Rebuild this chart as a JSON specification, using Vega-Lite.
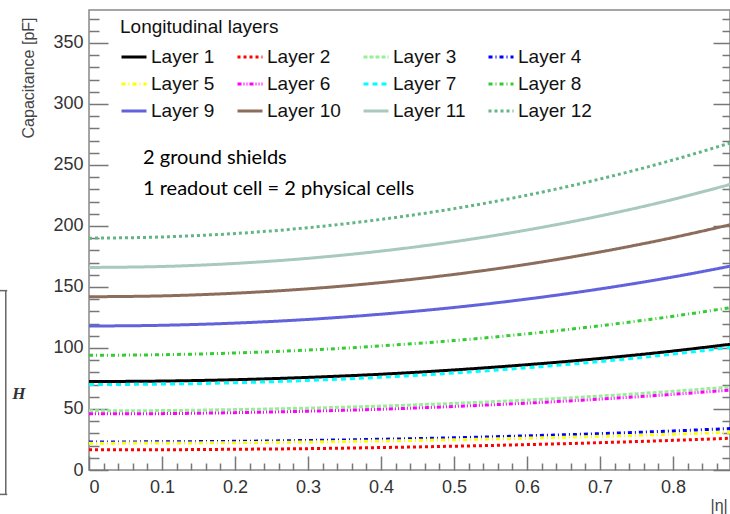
{
  "$schema": "https://vega.github.io/schema/vega-lite/v6.json",
  "autosize": {"type": "none"},
  "padding": {"left": 89, "top": 10, "right": 0, "bottom": 44},
  "width": 641,
  "height": 460,
  "background": "white",
  "config": {
    "view": {"stroke": "#888888", "strokeWidth": 1.5},
    "axis": {"domain": false, "grid": false, "tickColor": "#777777", "tickWidth": 1.5, "labelFont": "Liberation Sans", "labelFontSize": 18, "labelColor": "#333333", "titleFont": "Liberation Sans", "titleFontWeight": "normal", "titleColor": "#444444"}
  },
  "datasets": {
    "curves": [
      {"eta": 0, "C": 72.5, "layer": "Layer 1"}, {"eta": 0.1, "C": 72.9, "layer": "Layer 1"}, {"eta": 0.2, "C": 74.0, "layer": "Layer 1"}, {"eta": 0.3, "C": 75.9, "layer": "Layer 1"}, {"eta": 0.4, "C": 78.5, "layer": "Layer 1"}, {"eta": 0.5, "C": 82.0, "layer": "Layer 1"}, {"eta": 0.6, "C": 86.3, "layer": "Layer 1"}, {"eta": 0.7, "C": 91.4, "layer": "Layer 1"}, {"eta": 0.8, "C": 97.5, "layer": "Layer 1"}, {"eta": 0.878, "C": 103.0, "layer": "Layer 1"},
      {"eta": 0, "C": 16.5, "layer": "Layer 2"}, {"eta": 0.1, "C": 16.6, "layer": "Layer 2"}, {"eta": 0.2, "C": 17.0, "layer": "Layer 2"}, {"eta": 0.3, "C": 17.5, "layer": "Layer 2"}, {"eta": 0.4, "C": 18.4, "layer": "Layer 2"}, {"eta": 0.5, "C": 19.5, "layer": "Layer 2"}, {"eta": 0.6, "C": 20.8, "layer": "Layer 2"}, {"eta": 0.7, "C": 22.4, "layer": "Layer 2"}, {"eta": 0.8, "C": 24.3, "layer": "Layer 2"}, {"eta": 0.878, "C": 26.0, "layer": "Layer 2"},
      {"eta": 0, "C": 48.5, "layer": "Layer 3"}, {"eta": 0.1, "C": 48.7, "layer": "Layer 3"}, {"eta": 0.2, "C": 49.5, "layer": "Layer 3"}, {"eta": 0.3, "C": 50.7, "layer": "Layer 3"}, {"eta": 0.4, "C": 52.4, "layer": "Layer 3"}, {"eta": 0.5, "C": 54.6, "layer": "Layer 3"}, {"eta": 0.6, "C": 57.3, "layer": "Layer 3"}, {"eta": 0.7, "C": 60.6, "layer": "Layer 3"}, {"eta": 0.8, "C": 64.5, "layer": "Layer 3"}, {"eta": 0.878, "C": 68.0, "layer": "Layer 3"},
      {"eta": 0, "C": 23.0, "layer": "Layer 4"}, {"eta": 0.1, "C": 23.1, "layer": "Layer 4"}, {"eta": 0.2, "C": 23.5, "layer": "Layer 4"}, {"eta": 0.3, "C": 24.2, "layer": "Layer 4"}, {"eta": 0.4, "C": 25.2, "layer": "Layer 4"}, {"eta": 0.5, "C": 26.4, "layer": "Layer 4"}, {"eta": 0.6, "C": 28.0, "layer": "Layer 4"}, {"eta": 0.7, "C": 29.8, "layer": "Layer 4"}, {"eta": 0.8, "C": 32.0, "layer": "Layer 4"}, {"eta": 0.878, "C": 34.0, "layer": "Layer 4"},
      {"eta": 0, "C": 22.0, "layer": "Layer 5"}, {"eta": 0.1, "C": 22.1, "layer": "Layer 5"}, {"eta": 0.2, "C": 22.4, "layer": "Layer 5"}, {"eta": 0.3, "C": 23.0, "layer": "Layer 5"}, {"eta": 0.4, "C": 23.8, "layer": "Layer 5"}, {"eta": 0.5, "C": 24.8, "layer": "Layer 5"}, {"eta": 0.6, "C": 26.1, "layer": "Layer 5"}, {"eta": 0.7, "C": 27.6, "layer": "Layer 5"}, {"eta": 0.8, "C": 29.4, "layer": "Layer 5"}, {"eta": 0.878, "C": 31.0, "layer": "Layer 5"},
      {"eta": 0, "C": 46.0, "layer": "Layer 6"}, {"eta": 0.1, "C": 46.2, "layer": "Layer 6"}, {"eta": 0.2, "C": 47.0, "layer": "Layer 6"}, {"eta": 0.3, "C": 48.2, "layer": "Layer 6"}, {"eta": 0.4, "C": 49.8, "layer": "Layer 6"}, {"eta": 0.5, "C": 52.1, "layer": "Layer 6"}, {"eta": 0.6, "C": 54.8, "layer": "Layer 6"}, {"eta": 0.7, "C": 58.1, "layer": "Layer 6"}, {"eta": 0.8, "C": 62.0, "layer": "Layer 6"}, {"eta": 0.878, "C": 65.5, "layer": "Layer 6"},
      {"eta": 0, "C": 70.0, "layer": "Layer 7"}, {"eta": 0.1, "C": 70.4, "layer": "Layer 7"}, {"eta": 0.2, "C": 71.5, "layer": "Layer 7"}, {"eta": 0.3, "C": 73.4, "layer": "Layer 7"}, {"eta": 0.4, "C": 76.0, "layer": "Layer 7"}, {"eta": 0.5, "C": 79.5, "layer": "Layer 7"}, {"eta": 0.6, "C": 83.8, "layer": "Layer 7"}, {"eta": 0.7, "C": 88.9, "layer": "Layer 7"}, {"eta": 0.8, "C": 95.0, "layer": "Layer 7"}, {"eta": 0.878, "C": 100.5, "layer": "Layer 7"},
      {"eta": 0, "C": 94.0, "layer": "Layer 8"}, {"eta": 0.1, "C": 94.5, "layer": "Layer 8"}, {"eta": 0.2, "C": 95.9, "layer": "Layer 8"}, {"eta": 0.3, "C": 98.3, "layer": "Layer 8"}, {"eta": 0.4, "C": 101.7, "layer": "Layer 8"}, {"eta": 0.5, "C": 106.1, "layer": "Layer 8"}, {"eta": 0.6, "C": 111.6, "layer": "Layer 8"}, {"eta": 0.7, "C": 118.2, "layer": "Layer 8"}, {"eta": 0.8, "C": 126.0, "layer": "Layer 8"}, {"eta": 0.878, "C": 133.0, "layer": "Layer 8"},
      {"eta": 0, "C": 118.0, "layer": "Layer 9"}, {"eta": 0.1, "C": 118.6, "layer": "Layer 9"}, {"eta": 0.2, "C": 120.4, "layer": "Layer 9"}, {"eta": 0.3, "C": 123.4, "layer": "Layer 9"}, {"eta": 0.4, "C": 127.7, "layer": "Layer 9"}, {"eta": 0.5, "C": 133.2, "layer": "Layer 9"}, {"eta": 0.6, "C": 140.1, "layer": "Layer 9"}, {"eta": 0.7, "C": 148.4, "layer": "Layer 9"}, {"eta": 0.8, "C": 158.2, "layer": "Layer 9"}, {"eta": 0.878, "C": 167.0, "layer": "Layer 9"},
      {"eta": 0, "C": 142.0, "layer": "Layer 10"}, {"eta": 0.1, "C": 142.7, "layer": "Layer 10"}, {"eta": 0.2, "C": 144.9, "layer": "Layer 10"}, {"eta": 0.3, "C": 148.5, "layer": "Layer 10"}, {"eta": 0.4, "C": 153.6, "layer": "Layer 10"}, {"eta": 0.5, "C": 160.3, "layer": "Layer 10"}, {"eta": 0.6, "C": 168.6, "layer": "Layer 10"}, {"eta": 0.7, "C": 178.7, "layer": "Layer 10"}, {"eta": 0.8, "C": 190.5, "layer": "Layer 10"}, {"eta": 0.878, "C": 201.0, "layer": "Layer 10"},
      {"eta": 0, "C": 166.0, "layer": "Layer 11"}, {"eta": 0.1, "C": 166.8, "layer": "Layer 11"}, {"eta": 0.2, "C": 169.3, "layer": "Layer 11"}, {"eta": 0.3, "C": 173.5, "layer": "Layer 11"}, {"eta": 0.4, "C": 179.4, "layer": "Layer 11"}, {"eta": 0.5, "C": 187.1, "layer": "Layer 11"}, {"eta": 0.6, "C": 196.7, "layer": "Layer 11"}, {"eta": 0.7, "C": 208.2, "layer": "Layer 11"}, {"eta": 0.8, "C": 221.8, "layer": "Layer 11"}, {"eta": 0.878, "C": 234.0, "layer": "Layer 11"},
      {"eta": 0, "C": 190.0, "layer": "Layer 12"}, {"eta": 0.1, "C": 191.0, "layer": "Layer 12"}, {"eta": 0.2, "C": 193.8, "layer": "Layer 12"}, {"eta": 0.3, "C": 198.6, "layer": "Layer 12"}, {"eta": 0.4, "C": 205.4, "layer": "Layer 12"}, {"eta": 0.5, "C": 214.2, "layer": "Layer 12"}, {"eta": 0.6, "C": 225.2, "layer": "Layer 12"}, {"eta": 0.7, "C": 238.5, "layer": "Layer 12"}, {"eta": 0.8, "C": 254.1, "layer": "Layer 12"}, {"eta": 0.878, "C": 268.0, "layer": "Layer 12"}
    ],
    "notes": [
      {"x": 0.074, "y": 256, "label": "2 ground shields"},
      {"x": 0.074, "y": 230, "label": "1 readout cell = 2 physical cells"}
    ],
    "bracket": [
      {"x": -0.114, "x2": -0.114, "y": -20, "y2": 147},
      {"x": -0.123, "x2": -0.112, "y": 147, "y2": 147},
      {"x": -0.123, "x2": -0.112, "y": -20, "y2": -20}
    ],
    "hlabel": [
      {"x": -0.096, "y": 62, "t": "H"}
    ]
  },
  "resolve": {"axis": {"x": "independent", "y": "independent"}},
  "layer": [
    {
      "data": {"name": "curves"},
      "mark": {"type": "line", "strokeWidth": 3, "interpolate": "monotone"},
      "encoding": {
        "x": {"field": "eta", "type": "quantitative", "scale": {"domain": [0, 0.878], "nice": false, "zero": false},
          "axis": {"orient": "bottom", "values": [0, 0.1, 0.2, 0.3, 0.4, 0.5, 0.6, 0.7, 0.8], "format": ".1~f", "tickSize": -14, "labelPadding": 22, "title": "|η|", "titleFontSize": 16, "titleAnchor": "end", "titleAlign": "left", "titleBaseline": "middle", "titleX": 621, "titleY": 35}},
        "y": {"field": "C", "type": "quantitative", "scale": {"domain": [0, 377], "nice": false, "zero": false},
          "axis": {"orient": "left", "values": [0, 50, 100, 150, 200, 250, 300, 350], "tickSize": -19, "labelPadding": 25, "title": "Capacitance [pF]", "titleFontSize": 16, "titleAngle": -90, "titleAlign": "right", "titleBaseline": "middle", "titleX": -61, "titleY": 7}},
        "color": {"field": "layer", "type": "nominal",
          "scale": {"domain": ["Layer 1", "Layer 2", "Layer 3", "Layer 4", "Layer 5", "Layer 6", "Layer 7", "Layer 8", "Layer 9", "Layer 10", "Layer 11", "Layer 12"],
            "range": ["#000000", "#ff0000", "#99ee99", "#0000ff", "#ffff00", "#ff00ff", "#00ffff", "#33cc33", "#6262dd", "#8c6d5c", "#a8c9bc", "#62b585"]},
          "legend": {"title": "Longitudinal layers", "orient": "none", "direction": "horizontal", "legendX": 31, "legendY": 8, "columns": 4, "symbolType": "stroke", "symbolSize": 625, "symbolStrokeWidth": 3, "labelFont": "Liberation Sans", "labelFontSize": 19, "labelColor": "#111111", "labelOffset": 3, "labelLimit": 200, "titleFont": "Liberation Sans", "titleFontSize": 19, "titleFontWeight": "normal", "titleColor": "#111111", "titlePadding": 6, "rowPadding": 3, "columnPadding": 16}},
        "strokeDash": {"field": "layer", "type": "nominal",
          "scale": {"domain": ["Layer 1", "Layer 2", "Layer 3", "Layer 4", "Layer 5", "Layer 6", "Layer 7", "Layer 8", "Layer 9", "Layer 10", "Layer 11", "Layer 12"],
            "range": [[1, 0], [3, 3], [4, 2], [4, 3, 1, 3], [4, 3, 1, 3], [4, 2, 1, 2, 1, 2], [5, 4], [4, 3, 1, 3], [1, 0], [1, 0], [1, 0], [3, 3]]},
          "legend": {"title": "Longitudinal layers", "orient": "none", "direction": "horizontal", "legendX": 31, "legendY": 8, "columns": 4, "symbolType": "stroke", "symbolSize": 625, "symbolStrokeWidth": 3, "labelFont": "Liberation Sans", "labelFontSize": 19, "labelColor": "#111111", "labelOffset": 3, "labelLimit": 200, "titleFont": "Liberation Sans", "titleFontSize": 19, "titleFontWeight": "normal", "titleColor": "#111111", "titlePadding": 6, "rowPadding": 3, "columnPadding": 16}}
      }
    },
    {
      "data": {"name": "notes"},
      "mark": {"type": "text", "align": "left", "baseline": "middle", "font": "Lato", "fontSize": 20, "color": "#000000"},
      "encoding": {
        "x": {"field": "x", "type": "quantitative", "scale": {"domain": [0, 0.878], "nice": false, "zero": false},
          "axis": {"orient": "bottom", "values": [0.02, 0.04, 0.06, 0.08, 0.12, 0.14, 0.16, 0.18, 0.22, 0.24, 0.26, 0.28, 0.32, 0.34, 0.36, 0.38, 0.42, 0.44, 0.46, 0.48, 0.52, 0.54, 0.56, 0.58, 0.62, 0.64, 0.66, 0.68, 0.72, 0.74, 0.76, 0.78, 0.82, 0.84, 0.86], "tickSize": -7, "labels": false, "title": null}},
        "y": {"field": "y", "type": "quantitative", "scale": {"domain": [0, 377], "nice": false, "zero": false},
          "axis": {"orient": "left", "values": [10, 20, 30, 40, 60, 70, 80, 90, 110, 120, 130, 140, 160, 170, 180, 190, 210, 220, 230, 240, 260, 270, 280, 290, 310, 320, 330, 340, 360, 370], "tickSize": -10, "labels": false, "title": null}},
        "text": {"field": "label"}
      }
    },
    {
      "data": {"name": "bracket"},
      "mark": {"type": "rule", "color": "#666666", "strokeWidth": 1.5},
      "encoding": {
        "x": {"field": "x", "type": "quantitative", "scale": {"domain": [0, 0.878], "nice": false, "zero": false}, "axis": null},
        "x2": {"field": "x2"},
        "y": {"field": "y", "type": "quantitative", "scale": {"domain": [0, 377], "nice": false, "zero": false},
          "axis": {"orient": "right", "values": [0, 50, 100, 150, 200, 250, 300, 350], "tickSize": -17, "labels": false, "title": null}},
        "y2": {"field": "y2"}
      }
    },
    {
      "data": {"name": "hlabel"},
      "mark": {"type": "text", "font": "Liberation Serif", "fontStyle": "italic", "fontWeight": "bold", "fontSize": 17, "color": "#333333", "align": "center", "baseline": "middle"},
      "encoding": {
        "x": {"field": "x", "type": "quantitative", "scale": {"domain": [0, 0.878], "nice": false, "zero": false}, "axis": null},
        "y": {"field": "y", "type": "quantitative", "scale": {"domain": [0, 377], "nice": false, "zero": false},
          "axis": {"orient": "right", "values": [10, 20, 30, 40, 60, 70, 80, 90, 110, 120, 130, 140, 160, 170, 180, 190, 210, 220, 230, 240, 260, 270, 280, 290, 310, 320, 330, 340, 360, 370], "tickSize": -8, "labels": false, "title": null}},
        "text": {"field": "t"}
      }
    }
  ]
}
